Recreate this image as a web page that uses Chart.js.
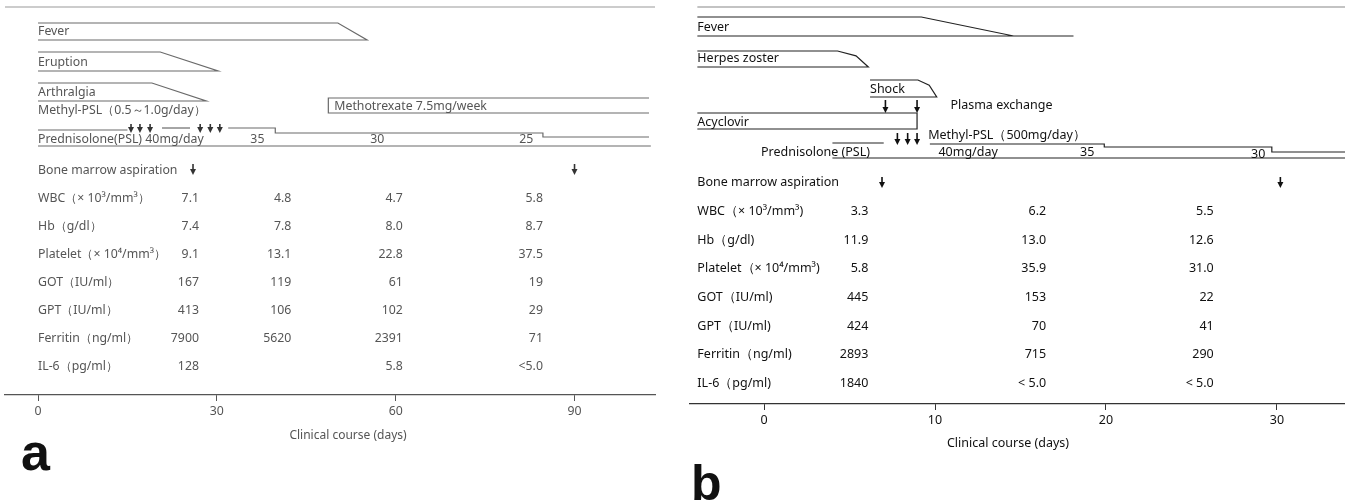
<!doctype html>
<html><head><meta charset="utf-8">
<title>Clinical course</title>
<script src="https://cdn.jsdelivr.net/npm/chart.js"></script>
<style>
  html, body { margin: 0; background: #fff; }
  body { width: 1345px; height: 504px; position: relative; overflow: hidden; font-family: "Noto Sans", sans-serif; }
  .panel { position: absolute; top: 0; height: 504px; }
  #wrapA { left: 0; width: 660px; }
  #wrapB { left: 680px; width: 665px; }
  .letter { position: absolute; font-family: "Liberation Sans", Arial, sans-serif; font-weight: bold; line-height: 1; color: #111; }
  .xtitle { position: absolute; transform: translateX(-50%); white-space: nowrap; line-height: 14px; }
</style>
</head><body>
<div class="panel" id="wrapA"><canvas id="chartA" width="660" height="504"></canvas></div>
<div class="panel" id="wrapB"><canvas id="chartB" width="665" height="504"></canvas></div>
<div class="xtitle" style="left:348px;top:428px;font-size:12px;color:#555">Clinical course (days)</div>
<div class="xtitle" style="left:1008px;top:436px;font-size:12.5px;color:#111">Clinical course (days)</div>
<div class="letter" style="left:21px;top:426px;font-size:52px">a</div>
<div class="letter" style="left:691px;top:458px;font-size:50px">b</div>
<script>
// ---- panel a data (days) ----
const ticksA = [0, 30, 60, 90];
const symptomsA = ['Fever', 'Eruption', 'Arthralgia'];
const symptomPlateauA = [50.3, 20.5, 19.1];
const symptomEndA = [55.2, 30.2, 28.2];
const mtxStartA = 48.7;
const endA = 102.5;
const mpslPulseA = [15.6, 17.1, 18.8, 27.2, 28.9, 30.5];
const pslPreA = [0, 15];
const pslMidA = [20.8, 25.5];
const pslStepDaysA = [31.9, 39.8, 84.7];
const pslDoseLabelsA = ['40mg/day', '35', '30', '25'];
const pslDoseDaysA = [18, 36.8, 56.9, 81.9];
const marrowA = [26, 90];
const labNamesA = ['WBC（× 10³/mm³）', 'Hb（g/dl）', 'Platelet（× 10⁴/mm³）', 'GOT（IU/ml）', 'GPT（IU/ml）', 'Ferritin（ng/ml）', 'IL-6（pg/ml）'];
const labDaysA = [27, 42.5, 61.2, 84.7];
const wbcA = ['7.1', '4.8', '4.7', '5.8'];
const hbA = ['7.4', '7.8', '8.0', '8.7'];
const pltA = ['9.1', '13.1', '22.8', '37.5'];
const gotA = ['167', '119', '61', '19'];
const gptA = ['413', '106', '102', '29'];
const ferritinA = ['7900', '5620', '2391', '71'];
const il6A = ['128', '', '5.8', '<5.0'];

// ---- panel b data (days) ----
const ticksB = [0, 10, 20, 30];
const startB = -3.9;
const feverB = [9.2, 14.6, 18.1];
const herpesB = [4.3, 6.1];
const shockB = [6.2, 9.0, 10.1];
const plasmaB = [7.1, 8.95];
const acyclovirEndB = 8.95;
const mpslB = [7.8, 8.4, 8.95];
const pslPreB = [4.0, 7.0];
const pslStepDaysB = [9.7, 19.9, 29.7];
const pslDoseLabelsB = ['40mg/day', '35', '30'];
const pslDoseDaysB = [10.2, 18.9, 28.9];
const marrowB = [6.9, 30.2];
const labNamesB = ['WBC（× 10³/mm³)', 'Hb（g/dl)', 'Platelet（× 10⁴/mm³)', 'GOT（IU/ml)', 'GPT（IU/ml)', 'Ferritin（ng/ml)', 'IL-6（pg/ml)'];
const labDaysB = [6.1, 16.5, 26.3];
const wbcB = ['3.3', '6.2', '5.5'];
const hbB = ['11.9', '13.0', '12.6'];
const pltB = ['5.8', '35.9', '31.0'];
const gotB = ['445', '153', '22'];
const gptB = ['424', '70', '41'];
const ferritinB = ['2893', '715', '290'];
const il6B = ['1840', '< 5.0', '< 5.0'];

// ---- layout (vertical rows, in px units of the y scale) ----
const FONT = '"Noto Sans", "DejaVu Sans", sans-serif';
const rowsA = {
  rule: 7, sym: [[23, 40, 31], [52, 71, 62], [83, 101, 92]], mpslLabel: 110, mtx: [98, 113, 106],
  pulse: [124, 133], pslPre: 130, psl: [128, 133, 137], pslBottom: 146, pslLabel: 139,
  marrow: [164, 175, 170], labs: [198, 226, 254, 282, 310, 338, 366], axis: 395
};
const rowsB = {
  rule: 7, fever: [17, 36, 27], herpes: [51, 67, 58], shock: [80, 97, 89],
  plasma: [100, 113], plasmaLabel: 105, acyclovir: [113, 129, 122], mpsl: [133, 145], mpslLabel: 135,
  pslPre: 143, psl: [144, 147, 152], pslBottom: 158, pslLabel: 152,
  marrow: [177, 188, 182], labs: [211, 240, 268, 297, 326, 354, 383], axis: 404
};

function line(pts, color, width) {
  return {
    data: pts.map(p => ({ x: p[0], y: p[1] })), showLine: true, borderColor: color,
    borderWidth: width || 1.2, pointRadius: 0, fill: false, tension: 0, clip: false
  };
}

const overlay = {
  id: 'overlay',
  afterDatasetsDraw(chart, _args, o) {
    const ctx = chart.ctx, x = chart.scales.x, y = chart.scales.y;
    ctx.save();
    ctx.textBaseline = 'middle';
    o.texts.forEach(t => {
      ctx.font = `${t.size || o.size}px ${FONT}`;
      ctx.fillStyle = o.color;
      ctx.textAlign = t.align || 'left';
      ctx.fillText(t.text, x.getPixelForValue(t.day), y.getPixelForValue(t.row));
    });
    o.arrows.forEach(a => {
      const px = x.getPixelForValue(a.day), y0 = y.getPixelForValue(a.from), y1 = y.getPixelForValue(a.to);
      ctx.strokeStyle = ctx.fillStyle = o.arrowColor;
      ctx.lineWidth = 1.6;
      ctx.beginPath(); ctx.moveTo(px, y0); ctx.lineTo(px, y1 - o.head + 1); ctx.stroke();
      ctx.beginPath();
      ctx.moveTo(px - o.headW / 2, y1 - o.head); ctx.lineTo(px + o.headW / 2, y1 - o.head); ctx.lineTo(px, y1);
      ctx.closePath(); ctx.fill();
    });
    ctx.restore();
  }
};

function makeChart(id, c) {
  return new Chart(document.getElementById(id), {
    type: 'scatter',
    data: { datasets: c.datasets },
    options: {
      responsive: false, animation: false, events: [],
      layout: { padding: { left: c.padLeft, right: c.padRight, top: 0, bottom: c.padBottom } },
      plugins: { legend: { display: false }, tooltip: { enabled: false }, overlay: c.overlay },
      scales: {
        x: {
          type: 'linear', min: c.xmin, max: c.xmax,
          afterBuildTicks: s => { s.ticks = c.ticks.map(v => ({ value: v })); },
          grid: { display: true, drawOnChartArea: false, tickLength: 6, color: c.lineColor, tickWidth: 1 },
          border: { display: true, color: c.lineColor, width: 1.2 },
          ticks: { color: c.textColor, font: { family: FONT, size: c.fontSize }, padding: 3, maxRotation: 0 }
        },
        y: { type: 'linear', display: false, min: 0, max: c.axisY, reverse: true }
      }
    },
    plugins: [overlay]
  });
}

// ---- panel a ----
(function () {
  const R = rowsA, col = '#6a6a6a', fs = 12.3;
  const xmin = -5.54, xmax = 103.5;
  const ds = [line([[xmin, R.rule], [xmax, R.rule]], '#999')];
  symptomsA.forEach((n, i) => {
    const r = R.sym[i];
    ds.push(line([[0, r[0]], [symptomPlateauA[i], r[0]], [symptomEndA[i], r[1]], [0, r[1]]], col));
  });
  ds.push(line([[endA, R.mtx[0]], [mtxStartA, R.mtx[0]], [mtxStartA, R.mtx[1]], [endA, R.mtx[1]]], col));
  ds.push(line([[pslPreA[0], R.pslPre], [pslPreA[1], R.pslPre]], col));
  ds.push(line([[pslMidA[0], R.psl[0]], [pslMidA[1], R.psl[0]]], col));
  const s = pslStepDaysA;
  ds.push(line([[s[0], R.psl[0]], [s[1], R.psl[0]], [s[1], R.psl[1]], [s[2], R.psl[1]], [s[2], R.psl[2]], [endA, R.psl[2]]], col));
  ds.push(line([[0, R.pslBottom], [endA + 0.3, R.pslBottom]], col));

  const texts = [];
  symptomsA.forEach((n, i) => texts.push({ day: 0, row: R.sym[i][2], text: n }));
  texts.push({ day: 0, row: R.mpslLabel, text: 'Methyl-PSL（0.5～1.0g/day）' });
  texts.push({ day: mtxStartA + 1, row: R.mtx[2], text: 'Methotrexate 7.5mg/week' });
  texts.push({ day: 0, row: R.pslLabel, text: 'Prednisolone(PSL)' });
  pslDoseLabelsA.forEach((t, i) => texts.push({ day: pslDoseDaysA[i], row: R.pslLabel, text: t, align: i ? 'center' : 'left' }));
  texts.push({ day: 0, row: R.marrow[2], text: 'Bone marrow aspiration' });
  const labs = [wbcA, hbA, pltA, gotA, gptA, ferritinA, il6A];
  labNamesA.forEach((n, i) => {
    texts.push({ day: 0, row: R.labs[i], text: n });
    labs[i].forEach((v, j) => texts.push({ day: labDaysA[j], row: R.labs[i], text: v, align: 'right' }));
  });
  const arrows = mpslPulseA.map(d => ({ day: d, from: R.pulse[0], to: R.pulse[1] }))
    .concat(marrowA.map(d => ({ day: d, from: R.marrow[0], to: R.marrow[1] })));

  makeChart('chartA', {
    datasets: ds, xmin, xmax, ticks: ticksA, axisY: R.axis,
    padLeft: 5, padRight: 5, padBottom: 504 - R.axis - (6 + fs * 1.2 + 6),
    lineColor: '#555', textColor: '#555', fontSize: fs,
    overlay: { texts, arrows, size: fs, color: '#555', arrowColor: '#333', head: 6, headW: 6 }
  });
})();

// ---- panel b ----
(function () {
  const R = rowsB, col = '#222', fs = 12.5;
  const xmin = -4.33, xmax = 33.98;
  const ds = [line([[startB, R.rule], [xmax, R.rule]], '#888')];
  const f = R.fever;
  ds.push(line([[startB, f[0]], [feverB[0], f[0]], [feverB[1], f[1]], [feverB[2], f[1]], [startB, f[1]]], col));
  const h = R.herpes;
  ds.push(line([[startB, h[0]], [herpesB[0], h[0]], [herpesB[0] + 0.6 * (herpesB[1] - herpesB[0]), h[0] + 0.3 * (h[1] - h[0])], [herpesB[1], h[1]], [startB, h[1]]], col));
  const k = R.shock;
  ds.push(line([[shockB[0], k[0]], [shockB[1], k[0]], [shockB[1] + 0.6 * (shockB[2] - shockB[1]), k[0] + 0.3 * (k[1] - k[0])], [shockB[2], k[1]], [shockB[0], k[1]]], col));
  const a = R.acyclovir;
  ds.push(line([[startB, a[0]], [acyclovirEndB, a[0]], [acyclovirEndB, a[1]], [startB, a[1]]], col));
  ds.push(line([[pslPreB[0], R.pslPre], [pslPreB[1], R.pslPre]], col));
  const s = pslStepDaysB;
  ds.push(line([[s[0], R.psl[0]], [s[1], R.psl[0]], [s[1], R.psl[1]], [s[2], R.psl[1]], [s[2], R.psl[2]], [xmax, R.psl[2]]], col));
  ds.push(line([[pslPreB[0], R.pslBottom], [xmax, R.pslBottom]], col));

  const texts = [
    { day: startB, row: f[2], text: 'Fever' },
    { day: startB, row: h[2], text: 'Herpes zoster' },
    { day: shockB[0], row: k[2], text: 'Shock' },
    { day: shockB[2] + 0.8, row: R.plasmaLabel, text: 'Plasma exchange' },
    { day: startB, row: a[2], text: 'Acyclovir' },
    { day: s[0] - 0.1, row: R.mpslLabel, text: 'Methyl-PSL（500mg/day）' },
    { day: shockB[0], row: R.pslLabel, text: 'Prednisolone (PSL)', align: 'right' },
    { day: startB, row: R.marrow[2], text: 'Bone marrow aspiration' }
  ];
  pslDoseLabelsB.forEach((t, i) => texts.push({ day: pslDoseDaysB[i], row: R.pslLabel + (i === 2 ? 2 : 0), text: t, align: i ? 'center' : 'left' }));
  const labs = [wbcB, hbB, pltB, gotB, gptB, ferritinB, il6B];
  labNamesB.forEach((n, i) => {
    texts.push({ day: startB, row: R.labs[i], text: n });
    labs[i].forEach((v, j) => texts.push({ day: labDaysB[j], row: R.labs[i], text: v, align: 'right' }));
  });
  const arrows = plasmaB.map(d => ({ day: d, from: R.plasma[0], to: R.plasma[1] }))
    .concat(mpslB.map(d => ({ day: d, from: R.mpsl[0], to: R.mpsl[1] })))
    .concat(marrowB.map(d => ({ day: d, from: R.marrow[0], to: R.marrow[1] })));

  makeChart('chartB', {
    datasets: ds, xmin, xmax, ticks: ticksB, axisY: R.axis,
    padLeft: 10, padRight: 0, padBottom: 504 - R.axis - (6 + fs * 1.2 + 6),
    lineColor: '#333', textColor: '#111', fontSize: fs,
    overlay: { texts, arrows, size: fs, color: '#111', arrowColor: '#111', head: 6, headW: 6 }
  });
})();
</script>
</body></html>
